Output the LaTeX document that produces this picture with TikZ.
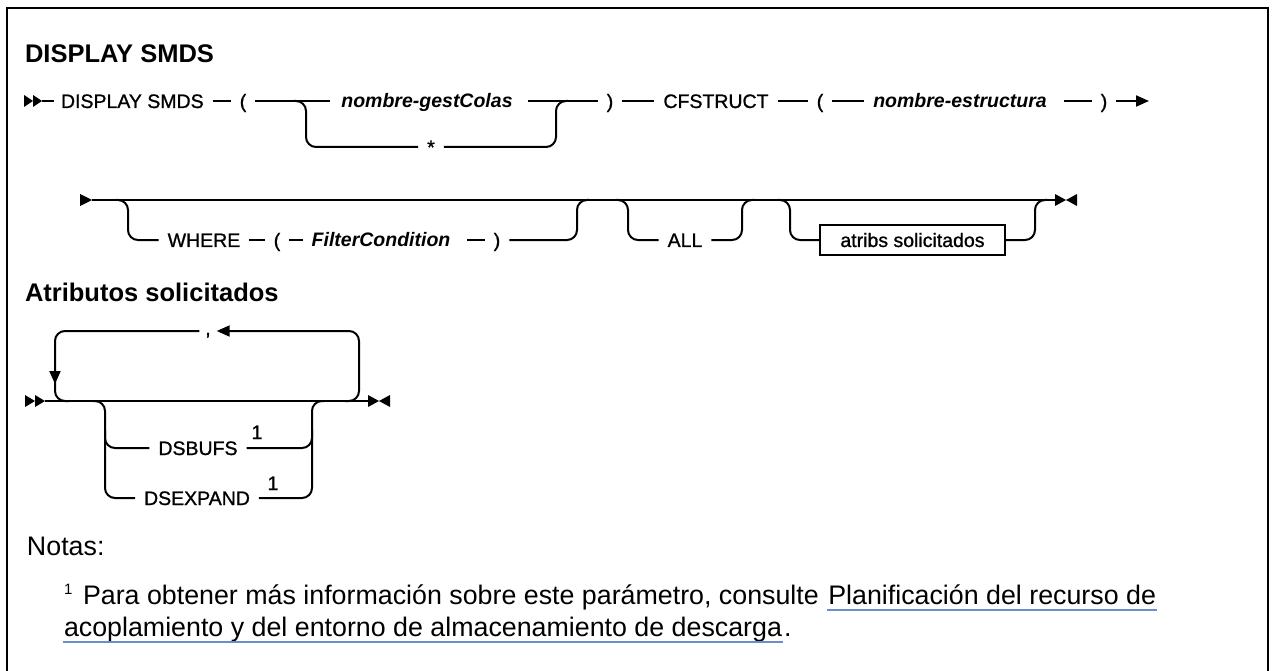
\documentclass[tikz,border=0pt]{standalone}
\usepackage{fontspec}
\setmainfont{Liberation Sans}
\newfontfamily\dgfam[FakeBold=1]{Liberation Sans}
\usetikzlibrary{arrows.meta,calc}
\definecolor{linkblue}{RGB}{110,140,205}
\newcommand{\dgf}{\dgfam\fontsize{19.5}{23}\selectfont}
\newcommand{\vrf}{\normalfont\fontsize{19.5}{23}\selectfont\bfseries\itshape}
\newcommand{\ntf}{\fontsize{26.8}{32}\selectfont}
\newcommand{\hdf}{\fontsize{25.5}{30}\selectfont\bfseries}
\begin{document}
\begin{tikzpicture}[x=1pt,y=-1pt,line width=2pt,
  rr/.style={rounded corners=10pt},
  txt/.style={inner sep=0pt,text height=14pt,text depth=0pt,font=\dgf},
  var/.style={txt,font=\vrf},
  boxnode/.style={txt,draw,line width=2pt,minimum width=185pt,minimum height=30pt},
  note/.style={inner sep=0pt,anchor=base west,font=\ntf},
  head/.style={inner sep=0pt,anchor=west,font=\hdf},
  ul/.style={draw=linkblue,line width=1.6pt},
  arr/.style={-{Triangle[length=13pt,width=11pt]}}]
\useasboundingbox (0,0) rectangle (1274,671);
% frame
\draw[line width=2pt] (7,672) -- (7,8) -- (1268,8) -- (1268,672);
% title
\node[head] (title) at (24,54) {DISPLAY SMDS};
% ---------- row 1
\fill (24,95) -- (33,101) -- (24,107) -- cycle;
\fill (33,95) -- (42,101) -- (33,107) -- cycle;
\coordinate (s1) at (42,101);
\node[txt,anchor=west] (kw1) at (60,101) {DISPLAY SMDS};
\node[txt] (p1) at (243,101) {(};
\node[var] (v1) at (427,101) {nombre-gestColas};
\node[txt] (star) at (431,147) {*};
\node[txt] (p2) at (610,101) {)};
\node[txt] (kw2) at (716,101) {CFSTRUCT};
\node[txt] (p3) at (820,101) {(};
\node[var] (v2) at (960,101) {nombre-estructura};
\node[txt] (p4) at (1104,101) {)};
\coordinate (e1) at (1149,101);
\coordinate (bl1) at (306,101);
\coordinate (br1) at (556,101);
\draw (s1) -- ([xshift=-6pt]kw1.west);
\draw ([xshift=8pt]kw1.east) -- ([xshift=-8pt]p1.west);
\draw ([xshift=8pt]p1.east) -- ([xshift=-10pt]v1.west);
\draw[rr] ([xshift=-12pt]bl1) -- (bl1) |- ([xshift=-8pt]star.west);
\draw[rr] ([xshift=8pt]star.east) -| (br1) -- ([xshift=12pt]br1);
\draw ([xshift=14pt]v1.east) -- ([xshift=-8pt]p2.west);
\draw ([xshift=8pt]p2.east) -- ([xshift=-8pt]kw2.west);
\draw ([xshift=8pt]kw2.east) -- ([xshift=-8pt]p3.west);
\draw ([xshift=8pt]p3.east) -- ([xshift=-8pt]v2.west);
\draw ([xshift=16pt]v2.east) -- ([xshift=-8pt]p4.west);
\draw[arr] ([xshift=8pt]p4.east) -- (e1);
% ---------- row 2
\fill (80,194) -- (92,200) -- (80,206) -- cycle;
\coordinate (s2) at (92,200);
\coordinate (e2) at (1055,200);
\draw (s2) -- (e2);
\fill (1055,194) -- (1066,200) -- (1055,206) -- cycle;
\fill (1077,194) -- (1066,200) -- (1077,206) -- cycle;
\coordinate (bl2) at (128,200);
\coordinate (br2) at (577,200);
\node[txt] (kw3) at (204,240) {WHERE};
\node[txt] (p5) at (277,240) {(};
\node[var] (v3) at (381,240) {FilterCondition};
\node[txt] (p6) at (497,240) {)};
\draw[rr] ([xshift=-12pt]bl2) -- (bl2) |- ([xshift=-8pt]kw3.west);
\draw ([xshift=8pt]kw3.east) -- ([xshift=-8pt]p5.west);
\draw ([xshift=8pt]p5.east) -- ([xshift=-8pt]v3.west);
\draw ([xshift=16pt]v3.east) -- ([xshift=-8pt]p6.west);
\draw[rr] ([xshift=8pt]p6.east) -| (br2) -- ([xshift=12pt]br2);
\coordinate (bl3) at (628,200);
\coordinate (br3) at (742,200);
\node[txt] (kw4) at (685,240) {ALL};
\draw[rr] ([xshift=-12pt]bl3) -- (bl3) |- ([xshift=-8pt]kw4.west);
\draw[rr] ([xshift=8pt]kw4.east) -| (br3) -- ([xshift=12pt]br3);
\coordinate (bl4) at (790,200);
\coordinate (br4) at (1035,200);
\node[boxnode] (box) at (912.5,240) {atribs solicitados};
\draw[rr] ([xshift=-12pt]bl4) -- (bl4) |- (box.west);
\draw[rr] (box.east) -| (br4) -- ([xshift=12pt]br4);
% ---------- fragment
\node[head] (atr) at (24,292) {Atributos solicitados};
\fill (25,395) -- (35,401) -- (25,407) -- cycle;
\fill (35,395) -- (45,401) -- (35,407) -- cycle;
\coordinate (s3) at (45,401);
\coordinate (e3) at (368,401);
\draw (s3) -- (e3);
\fill (368,395) -- (379,401) -- (368,407) -- cycle;
\fill (390,395) -- (379,401) -- (390,407) -- cycle;
\node[txt] (comma) at (208,328) {,};
\coordinate (ll) at (55,401);
\coordinate (lr) at (359,401);
\coordinate (ltl) at (55,331);
\coordinate (ltr) at (359,331);
\draw[rr,arr] ([xshift=-14pt]lr) -- (lr) -- (ltr) -- ([xshift=5pt]comma.east |- ltr);
\draw[rr] ([xshift=-5pt]comma.west |- ltl) -- (ltl) -- (ll) -- ([xshift=14pt]ll);
\coordinate (la) at (55,356);
\coordinate (lb) at (55,384);
\draw[arr] (la) -- (lb);
\coordinate (bl5) at (105,401);
\coordinate (br5) at (312,401);
\coordinate (bm5) at (105,430);
\coordinate (bm6) at (312,430);
\node[txt] (kw5) at (198,448) {DSBUFS};
\node[txt] (kw6) at (197,498) {DSEXPAND};
\node[txt] (f1) at (257,432) {1};
\node[txt] (f2) at (273,483) {1};
\draw[rr] ([xshift=-12pt]bl5) -- (bl5) |- ([xshift=-8pt]kw6.west);
\draw[rr] (bm5) |- ([xshift=-8pt]kw5.west);
\draw[rr] ([xshift=8pt]kw6.east) -| (br5) -- ([xshift=12pt]br5);
\draw[rr] ([xshift=8pt]kw5.east) -| (bm6);
% ---------- notes
\node[note] (notas) at (26,555) {Notas:};
\node[note] (sup) at (63,594) {\fontsize{15}{16}\selectfont 1};
\node[note] (l1a) at (82,604) {Para obtener más información sobre este parámetro, consulte};
\node[note] (l1b) at ([xshift=7.4pt]l1a.base east) {Planificación del recurso de};
\node[note] (l2a) at (63,636) {acoplamiento y del entorno de almacenamiento de descarga};
\node[note] (l2b) at (l2a.base east) {.};
\draw[ul] ($(l1b.base west)+(0,6)$) -- ($(l1b.base east)+(0,6)$);
\draw[ul] ($(l2a.base west)+(0,6)$) -- ($(l2a.base east)+(0,6)$);
\end{tikzpicture}
\end{document}
